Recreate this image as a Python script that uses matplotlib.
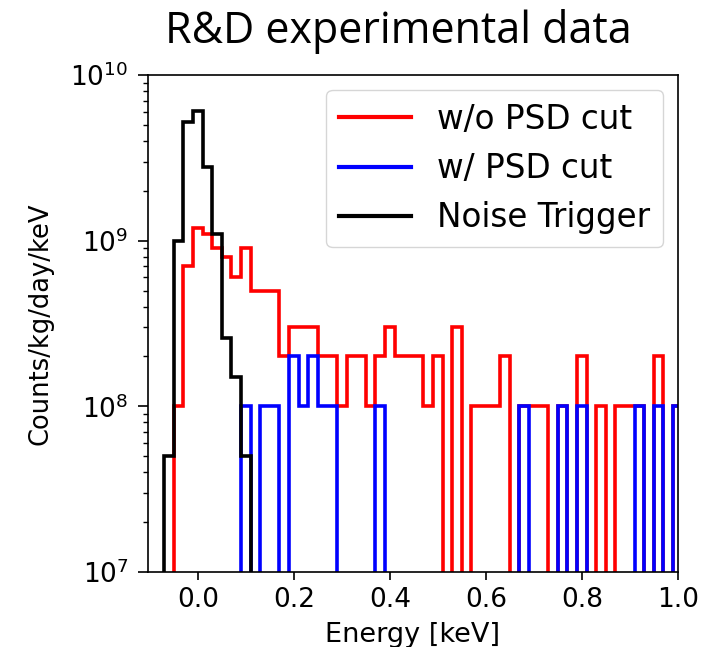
import numpy as np
import matplotlib
matplotlib.use("Agg")
import matplotlib.pyplot as plt
from matplotlib.lines import Line2D

plt.rcParams['font.family'] = ['DejaVu Sans']
plt.rcParams['font.size'] = 18

# bin edges: 0.02 keV bins from -0.07 to 1.01 keV
edges = np.round(np.arange(-7, 103, 2) / 100.0, 2)

# counts/kg/day/keV per bin, in units of 1e8
wo_psd = [0, 1, 7, 12, 11, 9, 8, 6, 9, 5,
          5, 5, 2, 3, 3, 3, 2, 2, 1, 2,
          2, 1, 2, 3, 2, 2, 2, 1, 2, 0,
          3, 0, 1, 1, 1, 2, 0, 1, 1, 1,
          0, 1, 0, 2, 0, 1, 0, 1, 1, 1,
          0, 2, 0, 1]
w_psd = [0, 0, 0, 0, 0, 0, 0, 0, 1, 0,
         1, 1, 0, 2, 1, 2, 1, 1, 0, 0,
         0, 0, 1, 0, 0, 0, 0, 0, 0, 0,
         0, 0, 0, 0, 0, 0, 0, 1, 0, 0,
         0, 1, 0, 1, 0, 0, 0, 0, 0, 1,
         0, 1, 0, 1]
noise = [0.5, 10, 52, 61, 28, 11, 2.6, 1.5, 0.5, 0]
noise = noise + [0] * (len(edges) - 1 - len(noise))

labels = ['w/o PSD cut', 'w/ PSD cut', 'Noise Trigger']
colors = ['red', 'blue', 'black']

scale = 1e8
centers = 0.5 * (edges[:-1] + edges[1:])

fig = plt.figure(figsize=(7.25, 6.47), dpi=100)
ax = fig.add_axes([0.204, 0.116, 0.731, 0.768])

for vals, c, lab in zip([wo_psd, w_psd, noise], colors, labels):
    ax.hist(centers, bins=edges, weights=np.array(vals) * scale,
            histtype='step', color=c, lw=2.6, label=lab)

ax.set_yscale('log')
ax.set_ylim(1e7, 1e10)
ax.set_xlim(-0.104, 1.0)
ax.set_xticks([0.0, 0.2, 0.4, 0.6, 0.8, 1.0])
ax.tick_params(axis='both', which='major', labelsize=19, length=6, width=1.2, pad=5)
ax.tick_params(axis='y', which='major', length=7, pad=7)
ax.tick_params(axis='y', which='minor', length=3.5, width=1.0)
ax.set_xlabel('Energy [keV]', fontsize=19.5, labelpad=6)
ax.set_ylabel('Counts/kg/day/keV', fontsize=18.5, labelpad=12)
for s in ax.spines.values():
    s.set_linewidth(1.2)

handles = [Line2D([], [], color=c, lw=3) for c in colors]
ax.legend(handles, labels, loc='upper right', fontsize=23.5,
          handlelength=2.2, borderaxespad=0.45)

fig.text(0.55, 0.952, 'R&D experimental data', ha='center', va='center',
         fontsize=31, family=['Open Sans', 'DejaVu Sans'])

fig.savefig('out.png', dpi=100)
